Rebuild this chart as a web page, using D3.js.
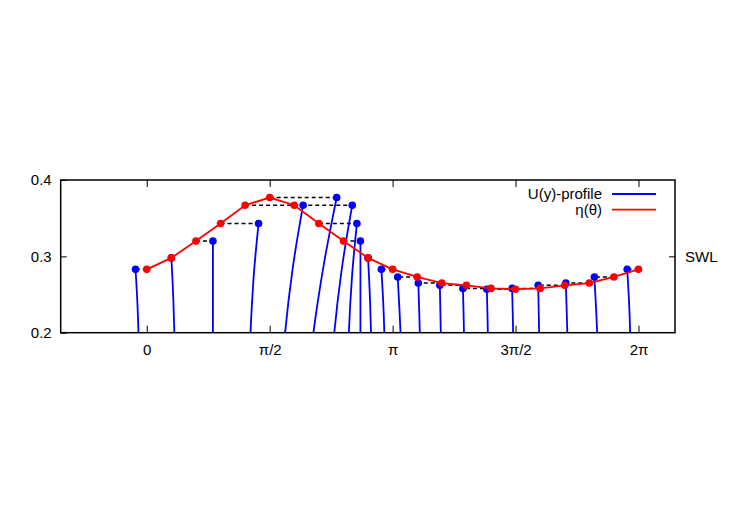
<!DOCTYPE html>
<meta charset="utf-8">
<style>
body { margin: 0; background: #fff; }
svg { font-family: "Liberation Sans", Arial, sans-serif; font-size: 15px; }
.frame { fill: none; stroke: #000; stroke-width: 1.5; }
.tick line { stroke: #000; stroke-width: 1; }
</style>
<svg width="750" height="525"></svg>
<script src="https://d3js.org/d3.v7.min.js"></script>
<script>

// phase positions (in units of pi) and surface elevation eta(theta)
var thetaPi = [0, 0.1, 0.2, 0.3, 0.4, 0.5, 0.6, 0.7, 0.8, 0.9, 1.0,
               1.1, 1.2, 1.3, 1.4, 1.5, 1.6, 1.7, 1.8, 1.9, 2.0];
var eta = [0.283, 0.298, 0.320, 0.343, 0.367, 0.377, 0.367, 0.343, 0.320, 0.298, 0.283,
           0.273, 0.265, 0.262, 0.258, 0.257, 0.258, 0.262, 0.265, 0.273, 0.283];

// U(y)-profile horizontal offsets: at bottom (y=0.2), half height, and surface
var uBot = [-0.106, 0.038, 0.217, 0.383, 0.511, 0.559, 0.511, 0.383, 0.217, 0.038, -0.106,
            -0.213, -0.281, -0.327, -0.345, -0.354, -0.345, -0.327, -0.281, -0.213, -0.106];
var uMid = [-0.121, 0.023, 0.217, 0.422, 0.607, 0.690, 0.607, 0.422, 0.217, 0.023, -0.121,
            -0.230, -0.290, -0.333, -0.351, -0.360, -0.351, -0.333, -0.290, -0.230, -0.121];
var uTop = [-0.144, 0, 0.217, 0.486, 0.741, 0.856, 0.741, 0.486, 0.217, 0, -0.144,
            -0.249, -0.300, -0.339, -0.358, -0.367, -0.358, -0.339, -0.300, -0.249, -0.144];

var xTicks = [0, Math.PI / 2, Math.PI, 3 * Math.PI / 2, 2 * Math.PI],
    xTickLabels = ["0", "π/2", "π", "3π/2", "2π"],
    yTicks = [0.2, 0.3, 0.4];

var svg = d3.select("svg"),
    margin = {top: 180, right: 75, bottom: 192.3, left: 60.7},
    width = +svg.attr("width") - margin.left - margin.right,
    height = +svg.attr("height") - margin.top - margin.bottom;

var x = d3.scaleLinear().domain([-1.1, 6.75]).range([0, width]),
    y = d3.scaleLinear().domain([0.2, 0.4]).range([height, 0]);

var g = svg.append("g")
    .attr("transform", "translate(" + margin.left + "," + margin.top + ")");

g.append("clipPath").attr("id", "clip")
  .append("rect").attr("width", width).attr("height", height);

var data = thetaPi.map(function(t, i) {
  return {th: t * Math.PI, eta: eta[i], b: uBot[i], m: uMid[i], t: uTop[i]};
});

// axes (inward ticks, mirrored)
g.append("g")
    .attr("class", "axis")
    .attr("transform", "translate(0," + height + ")")
    .call(d3.axisBottom(x).tickValues(xTicks).tickSize(-7).tickPadding(12)
      .tickFormat(function(d, i) { return xTickLabels[i]; }))
    .call(function(a) { a.select(".domain").remove(); })
    .selectAll("text").attr("font-size", 15).attr("font-family", null).attr("fill", "#000");

g.append("g")
    .attr("class", "axis")
    .call(d3.axisTop(x).tickValues(xTicks).tickSize(-7).tickFormat(""))
    .call(function(a) { a.select(".domain").remove(); });

g.append("g")
    .attr("class", "axis")
    .call(d3.axisLeft(y).tickValues(yTicks).tickSize(-6).tickPadding(9).tickFormat(d3.format(".1f")))
    .call(function(a) { a.select(".domain").remove(); })
    .selectAll("text").attr("font-size", 15).attr("font-family", null).attr("fill", "#000");

g.append("g")
    .attr("class", "axis")
    .attr("transform", "translate(" + width + ",0)")
    .call(d3.axisRight(y).tickValues([0.3]).tickSize(-6).tickPadding(10).tickFormat(function() { return "SWL"; }))
    .call(function(a) { a.select(".domain").remove(); })
    .selectAll("text").attr("font-size", 15).attr("font-family", null).attr("fill", "#000");

var plot = g.append("g").attr("clip-path", "url(#clip)");

// dashed connectors red -> blue
plot.selectAll(".conn")
  .data(data)
  .enter().append("line")
    .attr("x1", function(d) { return x(d.th); })
    .attr("x2", function(d) { return x(d.th + d.t); })
    .attr("y1", function(d) { return y(d.eta); })
    .attr("y2", function(d) { return y(d.eta); })
    .attr("stroke", "#000")
    .attr("stroke-width", 1.5)
    .attr("stroke-dasharray", "4,3");

// velocity profiles
var prof = d3.line()
    .x(function(p) { return x(p[0]); })
    .y(function(p) { return y(p[1]); })
    .curve(d3.curveNatural);

plot.selectAll(".prof")
  .data(data)
  .enter().append("path")
    .attr("d", function(d) {
      return prof([[d.th + d.b, 0.19], [d.th + d.b, 0.2], [d.th + d.m, (0.2 + d.eta) / 2], [d.th + d.t, d.eta]]);
    })
    .attr("fill", "none")
    .attr("stroke", "#0000ff")
    .attr("stroke-width", 1.8);

plot.selectAll(".bdot")
  .data(data)
  .enter().append("circle")
    .attr("cx", function(d) { return x(d.th + d.t); })
    .attr("cy", function(d) { return y(d.eta); })
    .attr("r", 3.8)
    .attr("fill", "#0000ff");

// surface elevation
plot.append("path")
    .datum(data)
    .attr("d", d3.line()
      .x(function(d) { return x(d.th); })
      .y(function(d) { return y(d.eta); }))
    .attr("fill", "none")
    .attr("stroke", "#ff0000")
    .attr("stroke-width", 1.8);

plot.selectAll(".rdot")
  .data(data)
  .enter().append("circle")
    .attr("cx", function(d) { return x(d.th); })
    .attr("cy", function(d) { return y(d.eta); })
    .attr("r", 3.8)
    .attr("fill", "#ff0000");

// frame
g.append("rect").attr("class", "frame").attr("width", width).attr("height", height);

// legend
var legend = [{name: "U(y)-profile", color: "#0000ff"}, {name: "η(θ)", color: "#ff0000"}];
var lg = svg.selectAll(".leg")
  .data(legend)
  .enter().append("g")
    .attr("transform", function(d, i) { return "translate(0," + (194 + i * 15.6) + ")"; });

lg.append("text")
    .attr("x", 602)
    .attr("dy", "0.35em")
    .attr("text-anchor", "end")
    .text(function(d) { return d.name; });

lg.append("line")
    .attr("x1", 612).attr("x2", 656)
    .attr("stroke", function(d) { return d.color; })
    .attr("stroke-width", 1.8);

</script>
